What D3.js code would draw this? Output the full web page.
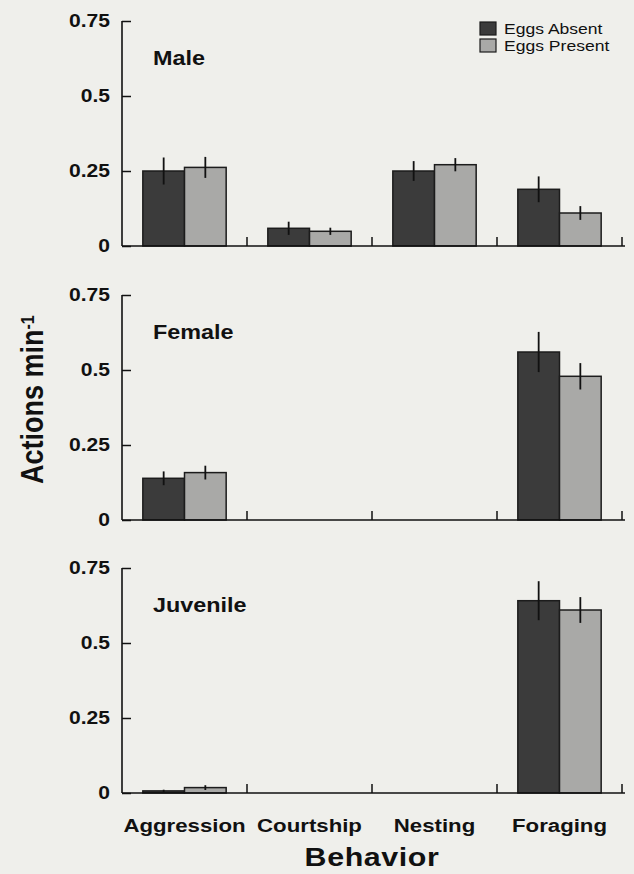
<!DOCTYPE html>
<html>
<head>
<meta charset="utf-8">
<script src="https://cdn.jsdelivr.net/npm/d3@7"></script>
<style>
  body { margin: 0; background: #efefeb; }
  svg { display: block; }
  text { font-family: "Liberation Sans", Arial, sans-serif; fill: #111; }
</style>
</head>
<body>
<div class="svg"></div>
<script>
var categories = ['Aggression', 'Courtship', 'Nesting', 'Foraging'];
var series = ['Eggs Absent', 'Eggs Present'];
var groups = ['Male', 'Female', 'Juvenile'];
var yTicks = [0, 0.25, 0.5, 0.75];
var yTickLabels = ['0', '0.25', '0.5', '0.75'];

// means, per group, per series (order follows categories)
var maleAbsent = [0.25, 0.059, 0.25, 0.189];
var malePresent = [0.262, 0.049, 0.271, 0.11];
var femaleAbsent = [0.139, 0, 0, 0.56];
var femalePresent = [0.158, 0, 0, 0.479];
var juvenileAbsent = [0.007, 0, 0, 0.641];
var juvenilePresent = [0.018, 0, 0, 0.61];

// standard errors
var maleAbsentErr = [0.045, 0.022, 0.033, 0.043];
var malePresentErr = [0.035, 0.012, 0.022, 0.023];
var femaleAbsentErr = [0.023, 0, 0, 0.067];
var femalePresentErr = [0.023, 0, 0, 0.044];
var juvenileAbsentErr = [0.004, 0, 0, 0.065];
var juvenilePresentErr = [0.008, 0, 0, 0.043];

var W = 634, H = 874;
var left = 122, right = 622;
var panelTops = [21, 295, 568];
var panelH = 225;
var sx = 1.17; // the printed figure is a bit wider than tall, text too
var colors = {'Eggs Absent': '#3b3b3b', 'Eggs Present': '#a9a9a7'};

var tables = [
  [maleAbsent, malePresent, maleAbsentErr, malePresentErr],
  [femaleAbsent, femalePresent, femaleAbsentErr, femalePresentErr],
  [juvenileAbsent, juvenilePresent, juvenileAbsentErr, juvenilePresentErr]
];

var svg = d3.select('div.svg').append('svg')
  .attr('width', W)
  .attr('height', H);

// text placed at (x, y) and stretched sideways
function wideText(sel, x, y, size, weight, anchor) {
  return sel.append('text')
    .attr('transform', 'translate(' + x + ',' + y + ') scale(' + sx + ',1)')
    .attr('text-anchor', anchor || 'start')
    .style('font-size', size + 'px')
    .style('font-weight', weight || 'normal');
}

var x0 = d3.scaleBand().domain(categories).range([left, right]).padding(0);
var x1 = d3.scaleBand().domain(series).range([0, x0.bandwidth()])
  .paddingInner(0).paddingOuter(0.5);

groups.forEach(function (name, gi) {
  var top = panelTops[gi];
  var y = d3.scaleLinear().domain([0, 0.75]).range([top + panelH, top]);
  var t = tables[gi];
  var rows = [];
  categories.forEach(function (c, ci) {
    series.forEach(function (s, si) {
      rows.push({cat: c, ser: s, v: t[si][ci], e: t[si + 2][ci]});
    });
  });

  var g = svg.append('g');

  // bars
  g.selectAll('rect.bar')
    .data(rows.filter(function (d) { return d.v > 0; }))
    .enter()
    .append('rect')
    .attr('class', 'bar')
    .attr('x', function (d) { return x0(d.cat) + x1(d.ser); })
    .attr('y', function (d) { return y(d.v); })
    .attr('width', x1.bandwidth())
    .attr('height', function (d) { return y(0) - y(d.v); })
    .style('fill', function (d) { return colors[d.ser]; })
    .style('stroke', '#1c1c1c')
    .style('stroke-width', 1.5);

  // error bars
  g.selectAll('line.err')
    .data(rows.filter(function (d) { return d.e > 0; }))
    .enter()
    .append('line')
    .attr('class', 'err')
    .attr('x1', function (d) { return x0(d.cat) + x1(d.ser) + x1.bandwidth() / 2; })
    .attr('x2', function (d) { return x0(d.cat) + x1(d.ser) + x1.bandwidth() / 2; })
    .attr('y1', function (d) { return y(d.v + d.e); })
    .attr('y2', function (d) { return y(Math.max(0, d.v - d.e)); })
    .style('stroke', '#111')
    .style('stroke-width', 1.8);

  // y axis, ticks pointing inward
  var yAxis = d3.axisLeft(y)
    .tickValues(yTicks)
    .tickFormat(function (d) { return yTickLabels[yTicks.indexOf(d)]; })
    .tickSize(-9)
    .tickSizeOuter(0)
    .tickPadding(12);
  var ya = g.append('g')
    .attr('transform', 'translate(' + left + ',0)')
    .call(yAxis);
  ya.select('.domain').remove();
  ya.selectAll('line').style('stroke', '#111').style('stroke-width', 1.5);
  ya.selectAll('text')
    .attr('x', -12 / sx)
    .attr('transform', 'scale(' + sx + ',1)')
    .style('font-size', '18px')
    .style('font-weight', 'bold')
    .style('font-family', '"Liberation Sans", Arial, sans-serif')
    .style('fill', '#111');
  g.append('line')
    .attr('x1', left).attr('x2', left)
    .attr('y1', y(0.75)).attr('y2', y(0))
    .style('stroke', '#111').style('stroke-width', 1.6);

  // x axis with ticks at the band edges
  var edges = categories.map(function (c) { return x0(c) + x0.bandwidth(); });
  g.append('line')
    .attr('x1', left).attr('x2', right + 3)
    .attr('y1', y(0)).attr('y2', y(0))
    .style('stroke', '#111').style('stroke-width', 1.6);
  g.selectAll('line.xt')
    .data(edges)
    .enter()
    .append('line')
    .attr('class', 'xt')
    .attr('x1', function (d) { return d; })
    .attr('x2', function (d) { return d; })
    .attr('y1', y(0)).attr('y2', y(0) - 9)
    .style('stroke', '#111').style('stroke-width', 1.5);

  // panel label
  wideText(g, 153, top + 44, 20, 'bold').text(name);
});

// category labels
categories.forEach(function (c) {
  wideText(svg, x0(c) + x0.bandwidth() / 2, 832, 19, 'bold', 'middle').text(c);
});

wideText(svg, (left + right) / 2, 866, 26, 'bold', 'middle')
  .style('letter-spacing', '0.5px')
  .text('Behavior');

var yt = svg.append('text')
  .attr('transform', 'translate(43,484) scale(' + sx + ',1) rotate(-90)')
  .attr('text-anchor', 'start')
  .style('font-size', '27px')
  .style('font-weight', 'bold');
yt.append('tspan').text('Actions min');
yt.append('tspan').attr('dy', '-0.5em').style('font-size', '16px').text('-1');

// legend
var legend = svg.selectAll('g.leg')
  .data(series)
  .enter()
  .append('g')
  .attr('class', 'leg')
  .attr('transform', function (d, i) { return 'translate(480,' + (22 + i * 17) + ')'; });
legend.append('rect')
  .attr('width', 16).attr('height', 13)
  .style('fill', function (d) { return colors[d]; })
  .style('stroke', '#1c1c1c')
  .style('stroke-width', 1.2);
legend.each(function (d) {
  wideText(d3.select(this), 24, 12, 15).text(d);
});
</script>
</body>
</html>
